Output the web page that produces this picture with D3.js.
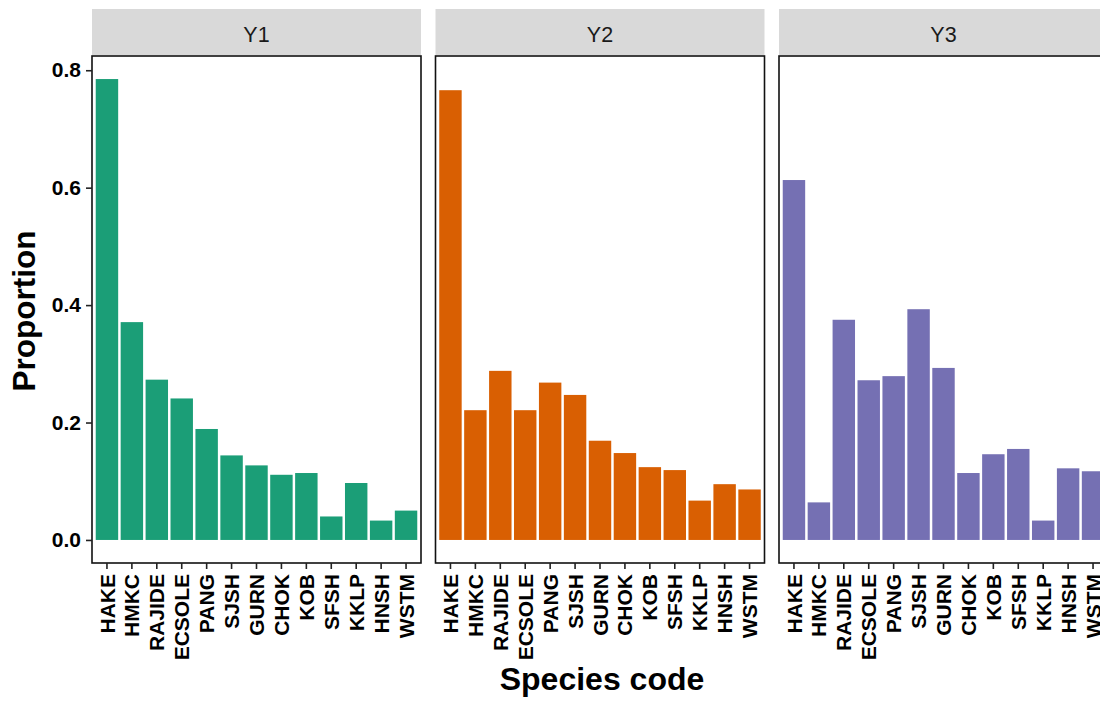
<!DOCTYPE html>
<html>
<head>
<meta charset="utf-8">
<script src="https://cdn.jsdelivr.net/npm/d3@7/dist/d3.min.js"></script>
<style>
  html, body { margin: 0; padding: 0; background: #fff; }
  svg { display: block; }
  text { font-family: "Liberation Sans", Arial, sans-serif; }
</style>
</head>
<body>
<svg id="chart" width="1100" height="702"></svg>
<script>
const species = ["HAKE","HMKC","RAJIDE","ECSOLE","PANG","SJSH","GURN","CHOK","KOB","SFSH","KKLP","HNSH","WSTM"];
const panels = ["Y1","Y2","Y3"];
const valuesY1 = [0.785,0.371,0.273,0.241,0.189,0.144,0.127,0.111,0.114,0.040,0.097,0.033,0.050];
const valuesY2 = [0.766,0.221,0.288,0.221,0.268,0.247,0.169,0.148,0.124,0.119,0.067,0.095,0.086];
const valuesY3 = [0.613,0.064,0.375,0.272,0.279,0.393,0.293,0.114,0.146,0.155,0.033,0.122,0.117];
const colors = ["#1B9E77","#D95F02","#7570B3"];
const yTicks = [0.0,0.2,0.4,0.6,0.8];

(function () {
const series = [valuesY1, valuesY2, valuesY3];
const svg = d3.select("#chart");

const panelLefts = [92, 435.5, 779];
const panelW = 329;
const pTop = 56, pBottom = 563;
const stripTop = 9, stripBottom = 55;
const tickFont = 21;

const maxV = d3.max(series.flat());
const y = d3.scaleLinear()
  .domain([-0.05 * maxV, maxV * 1.05])
  .range([pBottom, pTop]);

panels.forEach((p, i) => {
  const x0 = panelLefts[i];
  const x = d3.scaleBand()
    .domain(species)
    .range([x0, x0 + panelW])
    .paddingInner(0.1)
    .paddingOuter(0.15)
    .align(0.5);

  const g = svg.append("g");

  g.append("rect")
    .attr("x", x0).attr("y", stripTop)
    .attr("width", panelW).attr("height", stripBottom - stripTop)
    .attr("fill", "#D9D9D9");
  g.append("text")
    .attr("x", x0 + panelW / 2).attr("y", 42)
    .attr("text-anchor", "middle")
    .attr("font-size", 21.5)
    .attr("fill", "#1A1A1A")
    .text(p);

  g.selectAll("rect.bar")
    .data(species.map((s, k) => ({ s, v: series[i][k] })))
    .join("rect")
    .attr("class", "bar")
    .attr("x", d => x(d.s))
    .attr("width", x.bandwidth())
    .attr("y", d => y(d.v))
    .attr("height", d => y(0) - y(d.v))
    .attr("fill", colors[i]);

  g.append("rect")
    .attr("x", x0).attr("y", pTop)
    .attr("width", panelW).attr("height", pBottom - pTop)
    .attr("fill", "none")
    .attr("stroke", "#111")
    .attr("stroke-width", 1.6);

  const xAxis = d3.axisBottom(x).tickSize(6).tickPadding(4);
  const ax = g.append("g")
    .attr("transform", `translate(0,${pBottom})`)
    .call(xAxis);
  ax.select(".domain").remove();
  ax.selectAll(".tick line").attr("stroke", "#222").attr("stroke-width", 1.6);
  ax.selectAll(".tick text")
    .attr("font-size", tickFont)
    .attr("font-weight", "bold")
    .attr("fill", "#000")
    .attr("transform", "translate(0,11) rotate(-90)")
    .attr("text-anchor", "end")
    .attr("x", 0)
    .attr("y", 0)
    .attr("dy", "0.36em");

  if (i === 0) {
    const yAxis = d3.axisLeft(y).tickValues(yTicks).tickFormat(d3.format(".1f")).tickSize(6).tickPadding(5);
    const ay = g.append("g")
      .attr("transform", `translate(${x0},0)`)
      .call(yAxis);
    ay.select(".domain").remove();
    ay.selectAll(".tick line").attr("stroke", "#222").attr("stroke-width", 1.6);
    ay.selectAll(".tick text")
      .attr("font-size", tickFont)
      .attr("font-weight", "bold")
      .attr("fill", "#000");
  }
});

svg.append("text")
  .attr("transform", "translate(35,311) rotate(-90)")
  .attr("text-anchor", "middle")
  .attr("font-size", 31.5)
  .attr("font-weight", "bold")
  .attr("fill", "#000")
  .text("Proportion");

svg.append("text")
  .attr("x", 602).attr("y", 690)
  .attr("text-anchor", "middle")
  .attr("font-size", 32)
  .attr("font-weight", "bold")
  .attr("fill", "#000")
  .text("Species code");
})();
</script>
</body>
</html>
